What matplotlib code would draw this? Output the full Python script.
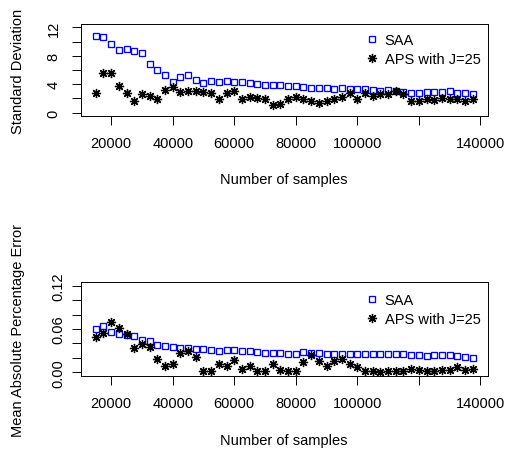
import matplotlib
matplotlib.use("Agg")
import matplotlib.pyplot as plt
import numpy as np

plt.rcParams['font.family'] = ['Liberation Sans', 'DejaVu Sans']

# sample sizes 15000 .. 137500, step 2500
n_samples = np.arange(15000, 137501, 2500)

# top panel: standard deviation
sd_saa = [10.84, 10.7, 9.63, 8.88, 8.98, 8.7, 8.37, 6.88, 5.95, 5.26,
          4.37, 5.02, 5.26, 4.65, 4.23, 4.47, 4.33, 4.47, 4.37, 4.28,
          4.19, 4.09, 3.9, 3.9, 3.86, 3.81, 3.81, 3.63, 3.44, 3.49,
          3.4, 3.3, 3.4, 3.35, 3.35, 3.26, 3.16, 3.07, 3.12, 3.07,
          2.88, 2.7, 2.7, 2.88, 2.88, 2.88, 3.02, 2.79, 2.7, 2.56]
sd_aps = [2.79, 5.58, 5.58, 3.72, 2.7, 1.67, 2.6, 2.33, 1.95, 3.16,
          3.63, 2.88, 3.07, 2.98, 2.88, 2.7, 1.95, 2.79, 2.98, 1.95,
          2.23, 2.05, 1.86, 1.02, 1.21, 1.95, 2.14, 1.86, 1.58, 1.3,
          1.58, 1.95, 2.14, 2.7, 1.86, 2.7, 2.33, 2.6, 2.6, 3.07,
          2.6, 1.67, 1.67, 1.86, 1.77, 2.05, 1.95, 1.86, 1.58, 1.95]

# bottom panel: mean absolute percentage error
mape_saa = [0.060, 0.0646, 0.0563, 0.0531, 0.0521, 0.0507, 0.0448, 0.043, 0.0383, 0.036,
            0.0346, 0.0337, 0.0332, 0.0323, 0.0323, 0.0314, 0.030, 0.0305, 0.0302, 0.0291,
            0.0288, 0.0277, 0.0268, 0.0268, 0.0268, 0.0259, 0.0259, 0.0277, 0.0263, 0.0263,
            0.0259, 0.0254, 0.0254, 0.0254, 0.0254, 0.0254, 0.0249, 0.0249, 0.0254, 0.0254,
            0.0249, 0.0245, 0.0245, 0.0231, 0.0236, 0.0236, 0.0236, 0.0231, 0.0208, 0.0203]
mape_aps = [0.0489, 0.054, 0.0701, 0.0614, 0.0526, 0.0332, 0.0388, 0.0346, 0.0184, 0.0083,
            0.0115, 0.0263, 0.0291, 0.0208, 0.0023, 0.0023, 0.0115, 0.0092, 0.0175, 0.0046,
            0.0083, 0.0023, 0.0023, 0.0115, 0.0036, 0.0023, 0.0023, 0.0147, 0.024, 0.0161,
            0.0092, 0.0161, 0.0184, 0.0115, 0.0069, 0.0023, 0.0023, 0.0009, 0.0023, 0.0023,
            0.0023, 0.0046, 0.0036, 0.0023, 0.0023, 0.0036, 0.0036, 0.0069, 0.0036, 0.0046]

x_ticks = [20000, 40000, 60000, 80000, 100000, 120000, 140000]
x_labels = ['20000', '40000', '60000', '80000', '100000', '', '140000']

panels = [
    dict(saa=sd_saa, aps=sd_aps, ylabel='Standard Deviation',
         yticks=[0, 2, 4, 6, 8, 10, 12],
         ylabels=['0', '', '4', '', '8', '', '12'], ypad=8,
         ylim=(-0.48, 12.48), rect=[0.1592, 0.7412, 0.8028, 0.2035], leg_y=0.898),
    dict(saa=mape_saa, aps=mape_aps, ylabel='Mean Absolute Percentage Error',
         yticks=[0, 0.02, 0.04, 0.06, 0.08, 0.10, 0.12],
         ylabels=['0.00', '', '', '0.06', '', '', '0.12'], ypad=4.5,
         ylim=(-0.0048, 0.1248), rect=[0.1592, 0.1666, 0.8028, 0.2066], leg_y=0.881),
]

fig = plt.figure(figsize=(5.07, 4.52), dpi=100)
fs = 10.5

for p in panels:
    ax = fig.add_axes(p['rect'])
    ax.plot(n_samples, p['saa'], linestyle='none', marker='s', markersize=4.8,
            markerfacecolor='none', markeredgecolor='#0000FF', markeredgewidth=0.95,
            label='SAA')
    ax.plot(n_samples, p['aps'], linestyle='none', marker=(8, 2, 0), markersize=6.6,
            color='black', markeredgewidth=0.95, label='APS with J=25')
    ax.set_xlim(10100, 142400)
    ax.set_ylim(*p['ylim'])
    ax.set_xticks(x_ticks)
    ax.set_xticklabels(x_labels)
    ax.set_yticks(p['yticks'])
    ax.set_yticklabels(p['ylabels'], rotation=90, va='center')
    ax.tick_params(axis='both', length=6.5, width=0.7, labelsize=fs)
    ax.tick_params(axis='x', pad=8)
    ax.tick_params(axis='y', pad=p['ypad'])
    for s in ax.spines.values():
        s.set_linewidth(0.7)
    ax.set_xlabel('Number of samples', fontsize=fs, va='center')
    ax.xaxis.set_label_coords(0.5, -0.69)
    ax.set_ylabel(p['ylabel'], fontsize=fs, va='center')
    ax.yaxis.set_label_coords(-0.154, 0.5)
    ax.legend(loc='upper left', bbox_to_anchor=(0.697, p['leg_y']), frameon=False,
              fontsize=fs, borderpad=0, borderaxespad=0, handlelength=1.0,
              handletextpad=0.4, labelspacing=0.3)

fig.savefig('out.png', dpi=100)
